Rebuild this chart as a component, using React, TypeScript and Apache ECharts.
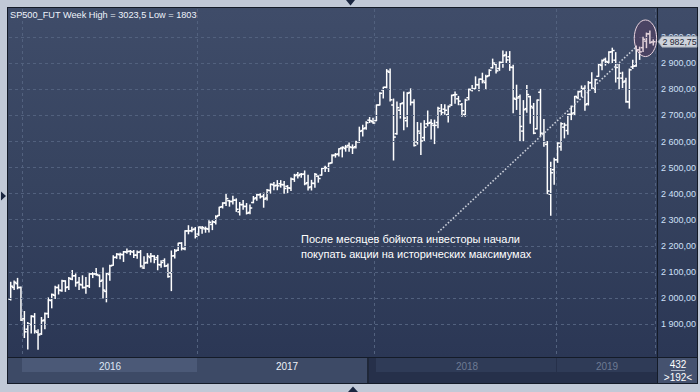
import React, { useEffect, useRef } from "react";
import * as echarts from "echarts";

// Weekly OHLC, first bar = week of 2015-12-14, last = week of 2019-07-22
const opens = [
  1995, 2040, 2055, 2040, 1920, 1880, 1898, 1928, 1868, 1862,
  1915, 1940, 1990, 2010, 2040, 2028, 2065, 2042, 2072, 2085,
  2060, 2050, 2040, 2046, 2092, 2092, 2086, 2068, 2025, 2090,
  2125, 2156, 2166, 2166, 2176, 2179, 2176, 2164, 2176, 2115,
  2136, 2155, 2160, 2155, 2127, 2143, 2124, 2096, 2162, 2183,
  2210, 2188, 2257, 2258, 2264, 2245, 2268, 2265, 2264, 2282,
  2290, 2316, 2350, 2364, 2373, 2370, 2375, 2330, 2358, 2351,
  2328, 2366, 2384, 2396, 2390, 2383, 2412, 2434, 2432, 2438,
  2434, 2428, 2421, 2455, 2473, 2474, 2475, 2442, 2426, 2439,
  2467, 2471, 2500, 2500, 2518, 2548, 2552, 2575, 2573, 2585,
  2577, 2580, 2599, 2642, 2652, 2682, 2676, 2680, 2740, 2798,
  2808, 2866, 2740, 2630, 2720, 2748, 2680, 2788, 2750, 2598,
  2632, 2615, 2668, 2673, 2662, 2673, 2717, 2724, 2703, 2740,
  2779, 2764, 2742, 2704, 2768, 2798, 2803, 2818, 2839, 2826,
  2852, 2883, 2896, 2880, 2902, 2932, 2925, 2884, 2762, 2772,
  2640, 2726, 2772, 2729, 2649, 2789, 2629, 2589, 2398, 2492,
  2530, 2580, 2655, 2642, 2704, 2710, 2768, 2792, 2804, 2745,
  2826, 2800, 2850, 2892, 2915, 2904, 2944, 2912, 2843, 2843,
  2832, 2752, 2886, 2890, 2952, 2960, 2985, 3013, 2982,
];
const highs = [
  2060, 2065, 2075, 2042, 1948, 1906, 1932, 1940, 1878, 1925,
  1942, 2000, 2015, 2045, 2050, 2068, 2066, 2078, 2105, 2092,
  2078, 2085, 2078, 2093, 2097, 2113, 2088, 2115, 2097, 2125,
  2162, 2170, 2171, 2178, 2188, 2182, 2182, 2180, 2182, 2158,
  2170, 2170, 2162, 2163, 2143, 2150, 2130, 2180, 2186, 2210,
  2212, 2258, 2277, 2271, 2270, 2272, 2274, 2272, 2296, 2296,
  2315, 2348, 2365, 2400, 2374, 2390, 2380, 2366, 2374, 2362,
  2356, 2389, 2397, 2400, 2402, 2416, 2437, 2443, 2450, 2450,
  2447, 2431, 2460, 2474, 2481, 2477, 2487, 2471, 2451, 2477,
  2468, 2498, 2505, 2517, 2549, 2554, 2572, 2579, 2585, 2594,
  2587, 2601, 2655, 2662, 2676, 2692, 2689, 2740, 2787, 2808,
  2876, 2878, 2763, 2752, 2746, 2790, 2787, 2802, 2760, 2673,
  2670, 2680, 2717, 2683, 2682, 2731, 2742, 2741, 2736, 2778,
  2790, 2773, 2746, 2762, 2801, 2815, 2848, 2840, 2862, 2854,
  2875, 2916, 2900, 2905, 2947, 2944, 2945, 2893, 2816, 2778,
  2757, 2815, 2774, 2746, 2759, 2800, 2684, 2600, 2520, 2536,
  2595, 2672, 2670, 2705, 2736, 2773, 2793, 2813, 2814, 2830,
  2864, 2839, 2896, 2913, 2920, 2944, 2958, 2941, 2895, 2866,
  2843, 2878, 2912, 2966, 2962, 3000, 3016, 3023.5, 2990,
];
const lows = [
  1992, 2032, 2035, 1913, 1848, 1804, 1865, 1865, 1803, 1860,
  1882, 1925, 1962, 1998, 2015, 2026, 2025, 2032, 2070, 2045,
  2032, 2038, 2018, 2040, 2078, 2087, 2043, 2000, 1985, 2068,
  2125, 2152, 2150, 2140, 2171, 2166, 2155, 2152, 2119, 2113,
  2133, 2138, 2135, 2108, 2118, 2120, 2079, 2028, 2153, 2182,
  2184, 2185, 2246, 2254, 2230, 2240, 2248, 2252, 2253, 2262,
  2284, 2316, 2345, 2355, 2352, 2360, 2332, 2318, 2340, 2322,
  2323, 2365, 2375, 2383, 2348, 2376, 2402, 2415, 2415, 2425,
  2402, 2404, 2412, 2447, 2460, 2463, 2434, 2414, 2414, 2425,
  2444, 2471, 2485, 2485, 2518, 2540, 2544, 2541, 2563, 2563,
  2554, 2575, 2597, 2621, 2647, 2673, 2670, 2680, 2740, 2767,
  2806, 2755, 2529, 2628, 2690, 2645, 2657, 2740, 2583, 2590,
  2550, 2603, 2660, 2610, 2592, 2653, 2700, 2705, 2675, 2738,
  2747, 2741, 2697, 2697, 2760, 2794, 2803, 2795, 2825, 2801,
  2852, 2882, 2863, 2873, 2885, 2903, 2873, 2710, 2723, 2603,
  2603, 2712, 2670, 2630, 2648, 2620, 2582, 2400, 2317, 2436,
  2520, 2566, 2614, 2628, 2684, 2703, 2764, 2773, 2720, 2740,
  2802, 2788, 2850, 2875, 2893, 2900, 2903, 2828, 2802, 2807,
  2751, 2728, 2880, 2889, 2915, 2945, 2960, 2977, 2970,
];
const closes = [
  2045, 2060, 2040, 1915, 1870, 1900, 1930, 1873, 1858, 1912,
  1940, 1992, 2013, 2040, 2030, 2065, 2040, 2075, 2085, 2058,
  2052, 2040, 2046, 2092, 2092, 2090, 2064, 2030, 2095, 2123,
  2155, 2168, 2167, 2177, 2178, 2178, 2164, 2175, 2122, 2134,
  2160, 2160, 2148, 2128, 2136, 2122, 2082, 2161, 2180, 2210,
  2190, 2257, 2257, 2262, 2236, 2272, 2270, 2266, 2290, 2292,
  2312, 2348, 2364, 2381, 2370, 2375, 2340, 2358, 2351, 2325,
  2345, 2380, 2396, 2388, 2379, 2413, 2436, 2430, 2430, 2435,
  2420, 2422, 2456, 2469, 2469, 2474, 2438, 2423, 2440, 2474,
  2458, 2497, 2499, 2516, 2546, 2550, 2572, 2578, 2579, 2579,
  2576, 2599, 2639, 2649, 2672, 2680, 2671, 2740, 2785, 2808,
  2870, 2760, 2617, 2730, 2745, 2690, 2785, 2750, 2585, 2640,
  2602, 2655, 2670, 2669, 2662, 2727, 2711, 2720, 2734, 2777,
  2780, 2755, 2718, 2759, 2800, 2801, 2818, 2839, 2832, 2849,
  2873, 2901, 2871, 2904, 2929, 2913, 2885, 2766, 2767, 2658,
  2722, 2780, 2735, 2632, 2759, 2632, 2599, 2410, 2480, 2530,
  2594, 2668, 2663, 2704, 2706, 2773, 2791, 2802, 2741, 2825,
  2804, 2837, 2896, 2910, 2907, 2943, 2949, 2884, 2862, 2828,
  2753, 2875, 2889, 2952, 2944, 2992, 3013, 2980, 2982.75,
];

const weeks = opens.map((_, i) =>
  new Date(Date.UTC(2015, 11, 14 + 7 * i)).toISOString().slice(0, 10)
);

const yTicks = [1900, 2000, 2100, 2200, 2300, 2400, 2500, 2600, 2700, 2800, 2900, 3000];
const yearLabels = ["2016", "2017", "2018", "2019"];
const yearStartIdx = [4, 55, 107, 160];
const trendFrom = [125, 2251];
const trendTo = [183, 2963];
const circleAt = [186, 2996];
const lastPrice = 2982.75;
const titleText = "SP500_FUT Week High = 3023,5 Low = 1803";
const noteLines = [
  "После месяцев бойкота инвесторы начали",
  "покупать акции на исторических максимумах",
];
const cornerTop = "432";
const cornerBottom = ">192<";

const FONT = '"Liberation Sans", Arial, sans-serif';

function fmt(v: number): string {
  const s = v.toFixed(2);
  const [i, d] = s.split(".");
  return i.replace(/\B(?=(\d{3})+(?!\d))/g, " ") + "," + d;
}

export default function App() {
  const ref = useRef<HTMLDivElement>(null);

  useEffect(() => {
    if (!ref.current) return;
    const chart = echarts.init(ref.current, undefined, { renderer: "svg" });
    const gridColor = "#52617e";
    const ohlc = weeks.map((_, i) => [i, opens[i], closes[i], lows[i], highs[i]]);

    chart.setOption({
      animation: false,
      backgroundColor: "transparent",
      grid: { left: 9, right: 45, top: 9, bottom: 35 },
      xAxis: {
        type: "category",
        data: weeks,
        boundaryGap: true,
        axisLine: { show: false },
        axisTick: { show: false },
        axisLabel: { show: false },
        splitLine: {
          show: true,
          interval: (idx: number) => yearStartIdx.indexOf(idx) >= 0,
          lineStyle: { color: gridColor, type: [3, 3], width: 1 },
        },
      },
      yAxis: {
        type: "value",
        position: "right",
        min: 1773.4,
        max: 3108.3,
        splitNumber: 13,
        axisLine: { show: false },
        axisTick: { show: false },
        splitLine: { show: false },
        axisLabel: {
          margin: 6,
          color: "#cfe0f8",
          fontSize: 9,
          fontFamily: FONT,
          showMinLabel: false,
          showMaxLabel: false,
          formatter: (v: number) =>
            yTicks.some((t) => Math.abs(t - v) < 1e-6) ? fmt(v) : "",
        },
      },
      series: [
        {
          type: "line",
          data: [],
          z: 1,
          silent: true,
          markLine: {
            silent: true,
            symbol: ["none", "none"],
            label: { show: false },
            lineStyle: { color: gridColor, type: [3, 3], width: 1 },
            data: yTicks.map((v) => ({ yAxis: v })),
          },
        },
        {
          type: "custom",
          z: 3,
          data: ohlc,
          encode: { x: 0, y: [1, 2, 3, 4] },
          renderItem: (params: any, api: any) => {
            const i = api.value(0);
            const pO = api.coord([i, api.value(1)]);
            const pC = api.coord([i, api.value(2)]);
            const pL = api.coord([i, api.value(3)]);
            const pH = api.coord([i, api.value(4)]);
            const x = pO[0];
            const st = { stroke: "#ffffff", lineWidth: 1.5 };
            return {
              type: "group",
              children: [
                { type: "line", shape: { x1: x, y1: pH[1] - 0.5, x2: x, y2: pL[1] + 0.5 }, style: st },
                { type: "line", shape: { x1: x - 2.3, y1: pO[1], x2: x, y2: pO[1] }, style: st },
                { type: "line", shape: { x1: x, y1: pC[1], x2: x + 2.3, y2: pC[1] }, style: st },
              ],
            };
          },
        },
        {
          type: "line",
          z: 4,
          silent: true,
          symbol: "none",
          data: [trendFrom, trendTo],
          lineStyle: { color: "#c9ced9", width: 1.6, type: [1.6, 1.8] },
        },
      ],
    });

    const tagY = chart.convertToPixel({ yAxisIndex: 0 }, lastPrice) as number;
    const ell = chart.convertToPixel({ gridIndex: 0 }, circleAt) as number[];

    const txt = (text: string, x: number, y: number, fill: string, size: number, align = "left") => ({
      type: "text",
      z: 60,
      silent: true,
      style: { text, x, y, fill, fontSize: size, fontFamily: FONT, align, verticalAlign: "middle" },
    });

    const elements: any[] = [
      txt(titleText, 10, 15, "#eef3fb", 9.2),
      txt(noteLines[0], 301, 239, "#ffffff", 11),
      txt(noteLines[1], 301, 254, "#ffffff", 11),
      txt(yearLabels[0], 110, 366, "#dde6f5", 10, "center"),
      txt(yearLabels[1], 287, 366, "#eef2f8", 10, "center"),
      txt(yearLabels[2], 467, 366, "#6d7a93", 10, "center"),
      txt(yearLabels[3], 607, 366, "#6d7a93", 10, "center"),
      txt(cornerTop, 678, 364, "#ffffff", 10, "center"),
      txt(cornerBottom, 678, 377, "#ffffff", 10, "center"),
      {
        type: "line",
        z: 60,
        silent: true,
        shape: { x1: 671, y1: 370.5, x2: 685, y2: 370.5 },
        style: { stroke: "#aeb8c8", lineWidth: 1 },
      },
      {
        type: "ellipse",
        z: 50,
        silent: true,
        shape: { cx: ell[0] - 1, cy: ell[1], rx: 11.2, ry: 18.3 },
        style: { fill: "rgba(120,40,80,0.22)", stroke: "#e9d3de", lineWidth: 1 },
      },
      {
        type: "polygon",
        z: 55,
        silent: true,
        shape: {
          points: [
            [658, tagY],
            [662, tagY - 5.5],
            [697, tagY - 5.5],
            [697, tagY + 5.5],
            [662, tagY + 5.5],
          ],
        },
        style: { fill: "#cdd2db", stroke: "#8f99a8", lineWidth: 0.8 },
      },
      txt(fmt(lastPrice), 679.5, tagY, "#1d2535", 8.8, "center"),
      {
        type: "polygon",
        z: 60,
        silent: true,
        shape: { points: [[346, 0], [355, 0], [350.5, 5.5]] },
        style: { fill: "#1a2640" },
      },
      {
        type: "polygon",
        z: 60,
        silent: true,
        shape: { points: [[348, 392], [358, 392], [353, 386.5]] },
        style: { fill: "#1a2640" },
      },
      {
        type: "polygon",
        z: 60,
        silent: true,
        shape: { points: [[1, 191.5], [1, 200.5], [6, 196]] },
        style: { fill: "#1a2640" },
      },
    ];
    chart.setOption({ graphic: { elements } });

    return () => chart.dispose();
  }, []);

  const abs = (l: number, t: number, w: number, h: number, bg: string): React.CSSProperties => ({
    position: "absolute",
    left: l,
    top: t,
    width: w,
    height: h,
    background: bg,
  });
  const grad = "linear-gradient(to bottom, #3f4c69 0%, #36435f 50%, #2b3755 100%)";

  return (
    <div
      style={{
        position: "fixed",
        left: 0,
        top: 0,
        width: 700,
        height: 392,
        background: "#c1c9d7",
        overflow: "hidden",
      }}
    >
      <div style={abs(7, 7, 691, 377, "#141b28")} />
      <div style={abs(8, 8, 649, 349, grad)} />
      <div style={abs(658, 8, 39, 349, grad)} />
      <div style={abs(8, 358, 359, 25, "#3d4a66")} />
      <div style={abs(367, 358, 2, 25, "#1f2738")} />
      <div style={abs(369, 358, 288, 25, "#26304a")} />
      <div style={abs(658, 358, 39, 25, "#45526f")} />
      <div style={abs(22, 358, 175, 14, "#4b5977")} />
      <div style={abs(376, 358, 180, 14, "#2f3b57")} />
      <div style={abs(557, 358, 100, 14, "#2f3b57")} />
      <div ref={ref} style={{ position: "absolute", left: 0, top: 0, width: 700, height: 392 }} />
    </div>
  );
}
